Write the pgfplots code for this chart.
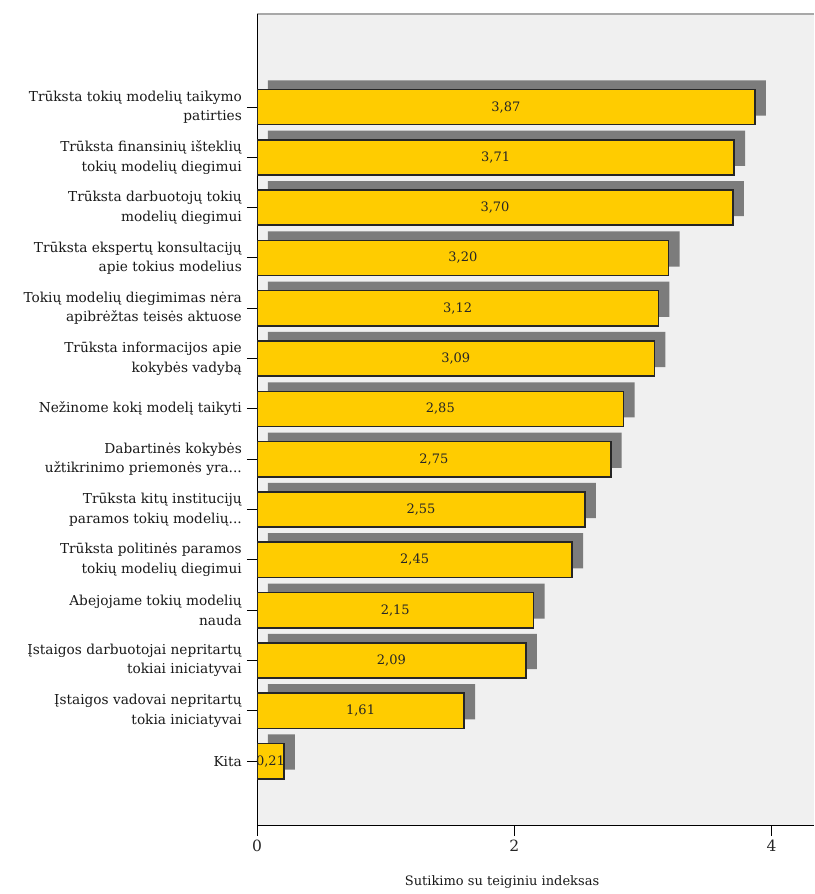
\documentclass[border=0pt]{standalone}
\usepackage{pgfplots}
\pgfplotsset{compat=1.18}
\usepackage{pgfplotstable}
\usepackage{fontspec}
\setmainfont{DejaVu Serif}
\definecolor{baryellow}{HTML}{FFCC00}
\definecolor{shadowgray}{HTML}{7C7C7C}
\definecolor{bggray}{HTML}{F0F0F0}
\definecolor{topline}{HTML}{A8A8A8}
\newcommand{\dts}{.\kern0pt.\kern0pt.}
\pgfplotstableread{
y  v     off
0  0.21  0.085
1  1.61  0.085
2  2.09  0.085
3  2.15  0.085
4  2.45  0.085
5  2.55  0.085
6  2.75  0.085
7  2.85  0.085
8  3.09  0.085
9  3.12  0.085
10 3.20  0.085
11 3.70  0.085
12 3.71  0.085
13 3.87  0.085
}\data
\begin{document}
\begin{tikzpicture}
\useasboundingbox (0,0) rectangle (814pt,894pt);
% shadow axis with background
\begin{axis}[
  at={(257pt,68pt)}, anchor=south west,
  scale only axis, width=557pt, height=812pt,
  xmin=0, xmax=4.33, ymin=-1.29, ymax=14.85,
  xbar stacked, bar width=0.7,
  axis background/.style={fill=bggray},
  axis x line*=top, axis y line=none,
  x axis line style={draw=topline, line width=1.5pt, -},
  xtick=\empty, ytick=\empty,
]
\addplot[draw=none, fill=none] table[x=off, y expr=\thisrow{y}+0.18]{\data};
\addplot[fill=shadowgray, draw=none] table[x=v, y expr=\thisrow{y}+0.18]{\data};
\end{axis}
% main axis
\begin{axis}[
  at={(257pt,68pt)}, anchor=south west,
  scale only axis, width=557pt, height=812pt,
  xmin=0, xmax=4.33, ymin=-1.29, ymax=14.85,
  bar width=0.7,
  axis lines*=left,
  axis line style={-, black, line width=1pt},
  tick align=outside,
  major tick length=10pt,
  tick style={black, line width=1pt},
  xtick={0,2,4},
  ytick={0,1,2,3,4,5,6,7,8,9,10,11,12,13},
  /pgf/number format/assume math mode=true,
  xticklabel style={font=\fontsize{15.5}{17}\selectfont, text=black!85},
  yticklabel style={font=\fontsize{13.7}{19.5}\selectfont, align=right, text=black!90, inner sep=5pt},
  yticklabels={
    {Kita},
    {Įstaigos vadovai nepritartų\\tokia iniciatyvai},
    {Įstaigos darbuotojai nepritartų\\tokiai iniciatyvai},
    {Abejojame tokių modelių\\nauda},
    {Trūksta politinės paramos\\tokių modelių diegimui},
    {Trūksta kitų institucijų\\paramos tokių modelių\dts},
    {Dabartinės kokybės\\užtikrinimo priemonės yra\dts},
    {Nežinome kokį modelį taikyti},
    {Trūksta informacijos apie\\kokybės vadybą},
    {Tokių modelių diegimimas nėra\\apibrėžtas teisės aktuose},
    {Trūksta ekspertų konsultacijų\\apie tokius modelius},
    {Trūksta darbuotojų tokių\\modelių diegimui},
    {Trūksta finansinių išteklių\\tokių modelių diegimui},
    {Trūksta tokių modelių taikymo\\patirties}
  },
  xlabel={Sutikimo su teiginiu indeksas},
  every axis x label/.style={at={(rel axis cs:0.44,0)}, anchor=center, yshift=-56pt, font=\fontsize{13}{15}\selectfont, text=black!90},
]
\addplot[xbar, fill=baryellow, draw=black!85, line width=1.6pt] table[x=v, y=y]{\data};
\addplot[sharp plot, draw=none, mark=none,
  nodes near coords={\pgfmathprintnumber[fixed,fixed zerofill,precision=2,use comma,assume math mode=true]{\pgfplotspointmeta}},
  point meta=explicit, nodes near coords align=center,
  every node near coord/.append style={anchor=center, font=\fontsize{13}{15}\selectfont, text=black!85}]
  table[x expr=\thisrow{v}/2, y=y, meta=v]{\data};
\end{axis}
\end{tikzpicture}
\end{document}
